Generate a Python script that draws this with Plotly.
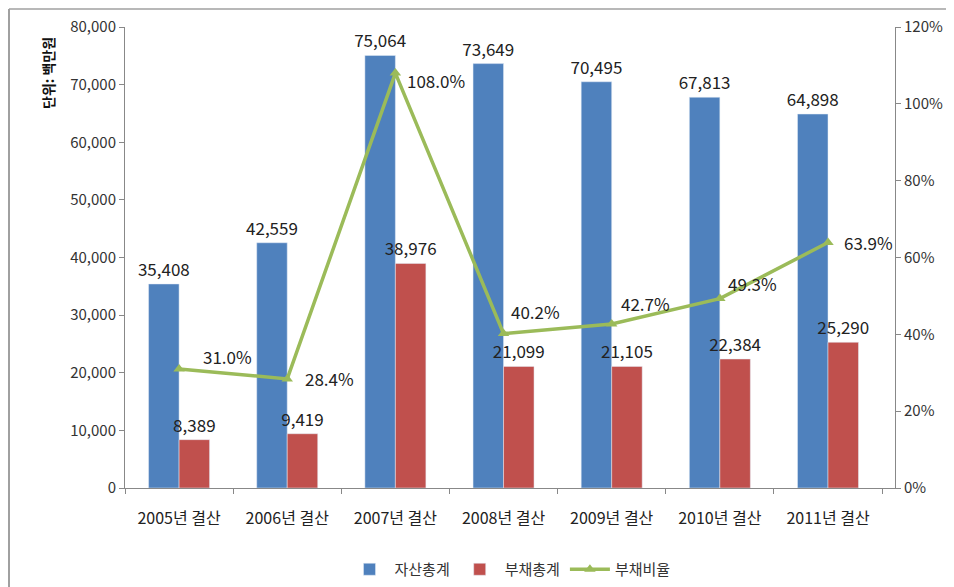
import plotly.graph_objects as go

categories = ["2005년 결산", "2006년 결산", "2007년 결산", "2008년 결산", "2009년 결산", "2010년 결산", "2011년 결산"]
assets = [35408, 42559, 75064, 73649, 70495, 67813, 64898]
debts = [8389, 9419, 38976, 21099, 21105, 22384, 25290]
ratio = [31.0, 28.4, 108.0, 40.2, 42.7, 49.3, 63.9]

# label offsets (pixels) for the ratio labels, placed as in the reference
label_dx = [22, 16, 10, 5, 7, 6, 14]
label_dy = [12, 0, -7, 22, 20, 15, 0]

FONT = "Noto Sans CJK KR"
W, H = 946, 579
L, R, T, B = 117, 59, 19, 99
PW, PH = W - L - R, H - T - B

fig = go.Figure()
fig.add_trace(go.Bar(x=categories, y=assets, name="자산총계", marker_color="#4F81BD",
                     text=[f"{v:,}" for v in assets], textposition="outside", constraintext="none",
                     textfont=dict(size=17, color="#222", family=FONT), cliponaxis=False))
fig.add_trace(go.Bar(x=categories, y=debts, name="부채총계", marker_color="#C0504D",
                     text=[f"{v:,}" for v in debts], textposition="outside", constraintext="none",
                     textfont=dict(size=17, color="#222", family=FONT), cliponaxis=False))
fig.add_trace(go.Scatter(x=categories, y=ratio, name="부채비율", yaxis="y2", mode="lines+markers",
                         line=dict(color="#9BBB59", width=3.5),
                         marker=dict(symbol="triangle-up", size=10, color="#9BBB59"),
                         cliponaxis=False))

for c, r, dx, dy in zip(categories, ratio, label_dx, label_dy):
    fig.add_annotation(x=c, y=r, xref="x", yref="y2", text=f"{r:.1f}%", showarrow=False,
                       xanchor="left", yanchor="middle", xshift=dx, yshift=dy,
                       font=dict(size=17, color="#222", family=FONT))

fig.add_annotation(x=(40 - L) / PW, y=(PH - 27 + T) / PH, xref="paper", yref="paper",
                   text="<b>단위: 백만원</b>", textangle=-90, showarrow=False,
                   xanchor="center", yanchor="top",
                   font=dict(size=14, family=FONT, color="#111"))

fig.update_layout(
    width=W, height=H, autosize=False,
    paper_bgcolor="white", plot_bgcolor="white",
    margin=dict(l=L, r=R, t=T, b=B, autoexpand=False),
    font=dict(family=FONT, color="#333"),
    barmode="group", bargap=0.436, bargroupgap=0,
    showlegend=True,
    legend=dict(orientation="h", x=0.5, xanchor="center", y=-0.141, yanchor="top",
                font=dict(size=15, family=FONT, color="#333"), traceorder="normal",
                itemwidth=40),
    xaxis=dict(showline=True, linecolor="#888", ticks="outside", tickson="boundaries",
               ticklen=5, tickcolor="#888", tickfont=dict(size=16, family=FONT, color="#222"),
               ticklabelstandoff=16,
               showgrid=False, automargin=False),
    yaxis=dict(range=[0, 80000], dtick=10000, tickformat=",", showline=True, linecolor="#888",
               ticks="outside", ticklen=5, tickcolor="#888", showgrid=False, zeroline=False,
               automargin=False,
               tickfont=dict(size=15, family=FONT, color="#333")),
    yaxis2=dict(range=[0, 120], dtick=20, ticksuffix="%", overlaying="y", side="right",
                showline=True, linecolor="#888", ticks="outside", ticklen=5, tickcolor="#888",
                automargin=False,
                showgrid=False, zeroline=False, tickfont=dict(size=15, family=FONT, color="#333")),
    shapes=[
        dict(type="line", xref="paper", yref="paper", x0=(1 - L) / PW, x1=(1 - L) / PW,
             y0=(T + PH - H) / PH, y1=(PH + T - 1) / PH, line=dict(color="#A0A0A0", width=2)),
        dict(type="line", xref="paper", yref="paper", x0=(1 - L) / PW, x1=(W - L) / PW,
             y0=(PH + T - 1) / PH, y1=(PH + T - 1) / PH, line=dict(color="#A0A0A0", width=1.5)),
    ],
)
fig.write_html("out.html")
